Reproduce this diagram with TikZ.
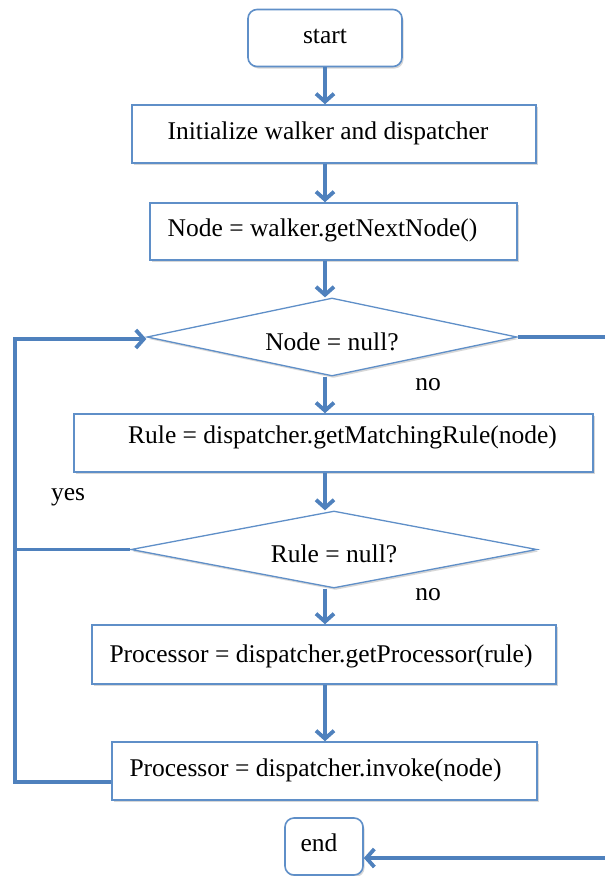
\documentclass[tikz,border=0pt]{standalone}
\usepackage{fontspec}
\setmainfont{Liberation Serif}
\usetikzlibrary{arrows.meta,shapes.geometric,shadows}
\definecolor{conn}{RGB}{79,129,189}
\definecolor{bord}{RGB}{95,143,200}
\begin{document}
\begin{tikzpicture}[x=1pt,y=-1pt,
  every node/.style={font=\fontsize{25.5}{30}\selectfont},
  softshadow/.style={drop shadow={shadow xshift=1.5pt,shadow yshift=-2pt,opacity=0.22,fill=black!70}},
  boxshape/.style={draw=bord,line width=1.6pt,fill=white,inner sep=0pt,
    text height=18pt,text depth=8pt,softshadow},
  termbox/.style={boxshape,rounded corners=9pt},
  decision/.style={diamond,draw=bord,line width=1.3pt,fill=white,inner sep=0pt,
    aspect=4.5,text height=30pt,text depth=4pt,softshadow},
  flow/.style={draw=conn,line width=3.8pt,-{Straight Barb[length=8pt,width=18pt]}},
  link/.style={draw=conn,line width=3.8pt},
  lbl/.style={inner sep=0pt}]
\useasboundingbox[fill=white] (0,0) rectangle (605,876);

% nodes
\node[termbox,minimum width=154pt,minimum height=57pt] (start) at (325,38) {start};
\node[boxshape,minimum width=404pt,minimum height=58pt] (init) at (334,134)
  {Initialize walker and dispatcher\hspace*{12pt}};
\node[boxshape,minimum width=367pt,minimum height=57pt] (getnext) at (333.5,231.5)
  {Node = walker.getNextNode()\hspace*{22pt}};
\node[decision,minimum width=370pt,minimum height=78pt] (d1) at (332,337) {Node = null?};
\node[boxshape,minimum width=519pt,minimum height=58pt,text depth=17pt] (rule) at (333.5,443)
  {\hspace*{18pt}Rule = dispatcher.getMatchingRule(node)};
\node[decision,minimum width=406pt,minimum height=77pt] (d2) at (334,549.5) {Rule = null?};
\node[boxshape,minimum width=464pt,minimum height=59pt,text depth=2pt] (proc) at (324,654.5)
  {Processor = dispatcher.getProcessor(rule)\hspace*{6pt}};
\node[boxshape,minimum width=425pt,minimum height=58pt] (invoke) at (324.5,771)
  {Processor = dispatcher.invoke(node)\hspace*{18pt}};
\node[termbox,minimum width=78pt,minimum height=57pt] (end) at (324,846.5)
  {end\hspace*{10pt}};

\node[lbl] (no1) at (428,385) {no};
\node[lbl] (no2) at (428,595) {no};
\node[lbl] (yes) at (68,497) {yes};

% helper coordinates
\coordinate (lb) at (15,782);
\coordinate (lt) at (15,339);
\coordinate (r1) at (605,337);
\coordinate (r2) at (605,858);

% main column
\draw[flow] (start.south) -- (start.south |- init.north);
\draw[flow] (init.south -| start.south) -- (getnext.north -| start.south);
\draw[flow] (getnext.south -| start.south) -- (d1.north -| start.south);
\draw[flow] (d1.south -| start.south) -- (rule.north -| start.south);
\draw[flow] (rule.south -| start.south) -- (d2.north -| start.south);
\draw[flow] (d2.south -| start.south) -- (proc.north -| start.south);
\draw[flow] (proc.south -| start.south) -- (invoke.north -| start.south);

% loop back
\draw[flow] ([yshift=-11pt]invoke.west) -- (lb) -- (lt) -- (lt -| d1.west);
\draw[link] (d2.west) -- (d2.west -| lb);

% exit to end
\draw[link] (d1.east) -- (d1.east -| r1);
\draw[flow] (r2) -- (r2 -| end.east);
\end{tikzpicture}
\end{document}
